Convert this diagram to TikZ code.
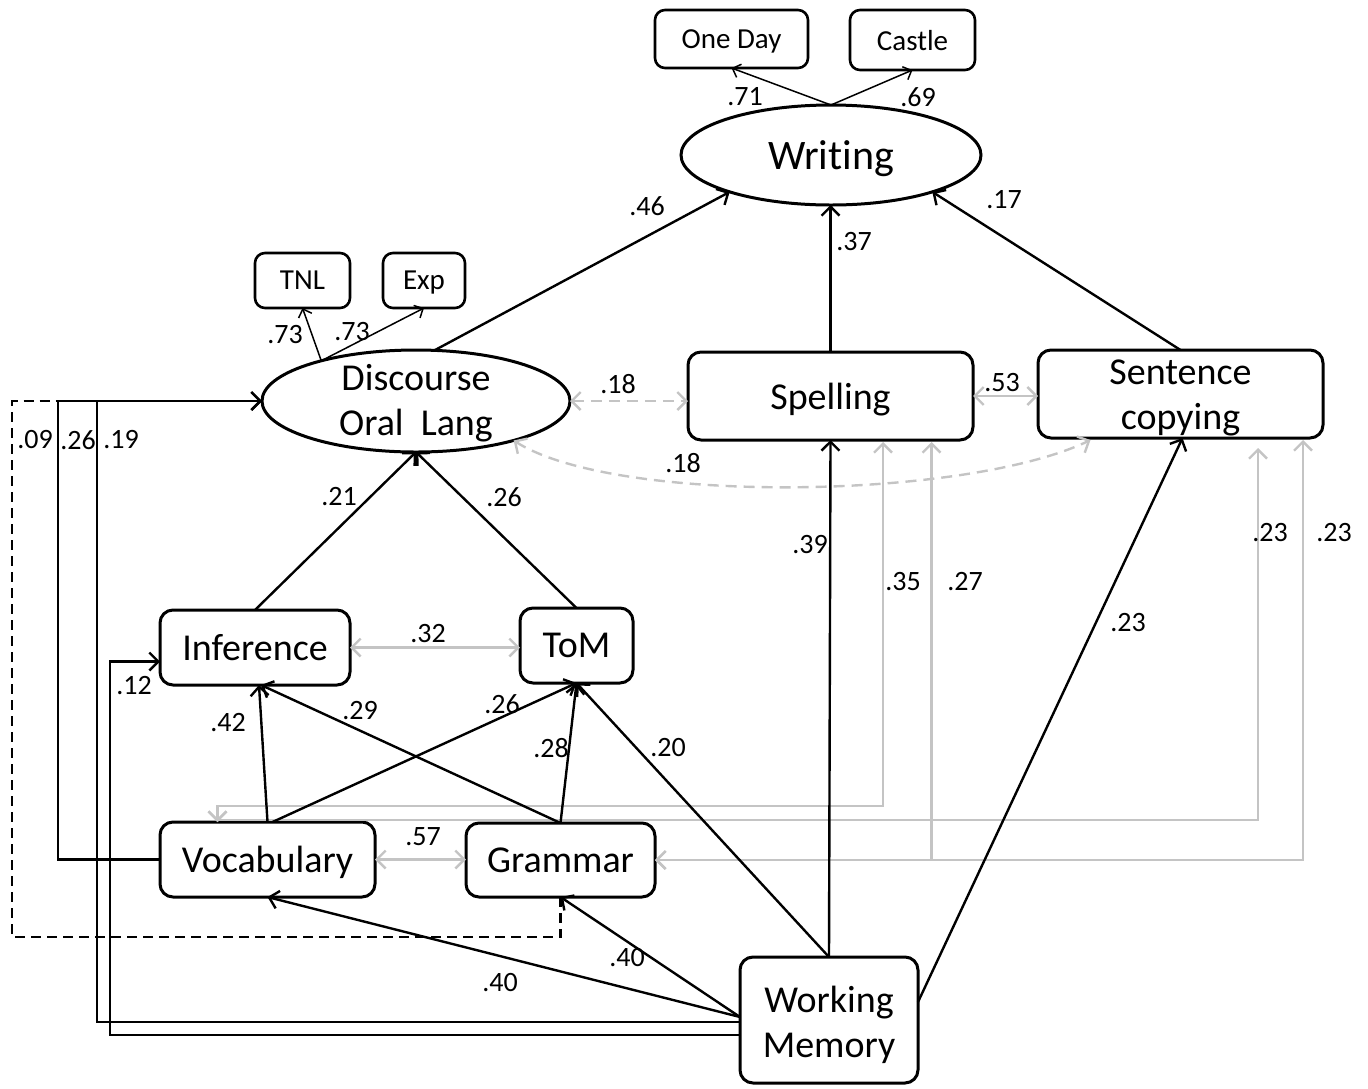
\documentclass[tikz,border=0pt]{standalone}
\usepackage{fontspec}
\setmainfont[Ligatures=NoCommon]{Carlito}
\usetikzlibrary{arrows.meta,shapes.geometric,calc}
\definecolor{corr}{RGB}{196,196,196}
\begin{document}
\begin{tikzpicture}[x=1pt,y=-1pt,
  every node/.style={inner sep=0pt, outer sep=0pt},
  boxfont/.style={font=\fontsize{38}{45}\selectfont},
  box/.style={draw, line width=3pt, rounded corners=13pt, align=center, boxfont, text depth=0pt},
  tallbox/.style={draw, line width=3pt, rounded corners=13pt},
  inner text/.style={boxfont, align=center},
  smallbox/.style={draw, line width=2.6pt, rounded corners=10pt, font=\fontsize{29}{30}\selectfont, text depth=0pt},
  latent/.style={draw, ellipse, line width=3pt, align=center},
  lbl/.style={font=\fontsize{28}{30}\selectfont},
  reg/.style={line width=2.4pt, -{Straight Barb[length=9pt,width=18pt]}},
  ind/.style={line width=1.5pt, -{Straight Barb[length=7pt,width=14pt]}},
  corrline/.style={corr, line width=2.4pt, {Straight Barb[length=9pt,width=18pt]}-{Straight Barb[length=9pt,width=18pt]}},
  corrdash/.style={corrline, dash pattern=on 11pt off 7pt},
  nsdash/.style={line width=2.2pt, dash pattern=on 10pt off 6pt},
]
\useasboundingbox (0,0) rectangle (1368,1088);

% ---- variables ----
\node[smallbox, minimum width=153pt, minimum height=58pt] (oneday) at (731.5,39) {One Day};
\node[smallbox, minimum width=125pt, minimum height=60pt] (castle) at (912.5,40) {Castle};
\node[latent, minimum width=300pt, minimum height=100pt, text depth=0pt, font=\fontsize{42}{45}\selectfont] (writing) at (831,155) {Writing};
\node[smallbox, minimum width=95pt, minimum height=55pt] (tnl) at (302.5,280.5) {TNL};
\node[smallbox, minimum width=82pt, minimum height=55pt] (exp) at (424,280.5) {Exp};
\node[latent, minimum width=308pt, minimum height=102pt,
  label={[inner text, yshift=-2pt]center:Discourse\\Oral\ \ Lang}] (disc) at (416,401) {};
\node[box, minimum width=285pt, minimum height=88pt] (spell) at (830.5,396) {Spelling};
\node[tallbox, minimum width=285pt, minimum height=88pt,
  label={[inner text, yshift=-4pt]center:Sentence\\copying}] (sent) at (1180.5,394) {};
\node[box, minimum width=190pt, minimum height=75pt] (inf) at (255,647.5) {Inference};
\node[box, minimum width=113pt, minimum height=75pt] (tom) at (576.5,645.5) {ToM};
\node[box, minimum width=215pt, minimum height=75pt] (voc) at (267.5,859.5) {Vocabulary};
\node[box, minimum width=189pt, minimum height=74pt] (gram) at (560.5,860) {Grammar};
\node[tallbox, minimum width=178pt, minimum height=126pt,
  label={[inner text, yshift=-5pt]center:Working\\Memory}] (wm) at (829,1020) {};

% ---- correlations (grey) ----
\draw[corrdash] (disc.east) -- (disc.east -| spell.west);
\draw[corrdash] (disc.-22) .. controls (615,505) and (965,500) .. ($(sent.south)+(-90,2)$);
\draw[corrline] (spell.east) -- (spell.east -| sent.west);
\draw[corrline] (inf.east) -- (inf.east -| tom.west);
\draw[corrline] (voc.east) -- (voc.east -| gram.west);
\draw[corrline] ($(spell.south)+(52.5,2)$) -- ++(0,364) -| ($(voc.north)+(-50,0)$);
\draw[corrline] ($(sent.south)+(77.5,10)$) -- ++(0,372) -| ($(voc.north)+(-50,0)$);
\draw[corrline] ($(spell.south)+(101,2)$) |- (gram.east);
\draw[corrline] ($(sent.south)+(122.5,2)$) |- (gram.east);

% ---- measurement loadings ----
\draw[ind] (writing.north) -- (oneday.south);
\draw[ind] (writing.north) -- (castle.south);
\draw[ind] (disc.157) -- (tnl.south);
\draw[ind] (disc.157) -- (exp.south);

% ---- structural paths ----
\draw[reg] (disc.70) -- (writing.200);
\draw[reg] (spell.north) -- (spell.north |- writing.south);
\draw[reg] (sent.north) -- (writing.-20);
\draw[reg] (inf.north) -- (disc.south);
\draw[reg] (tom.north) -- (disc.south);
\draw[reg] (voc.north) -- ($(inf.south)+(4,0)$);
\draw[reg] ($(voc.north)+(5,0)$) -- (tom.south);
\draw[reg] (gram.north) -- ($(inf.south)+(6,0)$);
\draw[reg] (gram.north) -- (tom.south);
\draw[reg] (wm.north) -- (tom.south);
\draw[reg] (wm.north) -- (spell.south);
\draw[reg] ($(wm.east)+(0,-18)$) -- ($(sent.south)+(2,0)$);
\draw[reg] ($(wm.west)+(0,-3)$) -- (gram.south);
\draw[reg] ($(wm.west)+(0,-3)$) -- (voc.south);
\draw[nsdash] (gram.south) |- (12,937) -- (12,401) -- (58,401);
\draw[reg] (voc.west) -| (58,600) |- (disc.west);
\draw[reg] ($(wm.west)+(0,2)$) -| (97,700) |- (disc.west);
\draw[reg] ($(wm.west)+(0,15)$) -| (110,800) |- ($(inf.west)+(0,14)$);

% ---- coefficients ----
\node[lbl] (c71) at (745,97) {.71};
\node[lbl] (c69) at (918,97) {.69};
\node[lbl] (c73a) at (285,335) {.73};
\node[lbl] (c73b) at (352,332) {.73};
\node[lbl] (c46) at (647,206) {.46};
\node[lbl] (c37) at (854,242) {.37};
\node[lbl] (c17) at (1004,200) {.17};
\node[lbl] (c18a) at (618,384) {.18};
\node[lbl] (c18b) at (683,463) {.18};
\node[lbl] (c53) at (1002,383) {.53};
\node[lbl] (c21) at (339,497) {.21};
\node[lbl] (c26a) at (504,497) {.26};
\node[lbl] (c32) at (428,634) {.32};
\node[lbl] (c42) at (228,723) {.42};
\node[lbl] (c29) at (360,711) {.29};
\node[lbl] (c26b) at (502,704) {.26};
\node[lbl] (c28) at (551,748) {.28};
\node[lbl] (c20) at (668,748) {.20};
\node[lbl] (c57) at (423,837) {.57};
\node[lbl] (c39) at (810,545) {.39};
\node[lbl] (c35) at (903,582) {.35};
\node[lbl] (c27) at (965,582) {.27};
\node[lbl] (c23a) at (1270,533) {.23};
\node[lbl] (c23b) at (1334,533) {.23};
\node[lbl] (c23c) at (1128,623) {.23};
\node[lbl] (c40a) at (627,958) {.40};
\node[lbl] (c40b) at (500,983) {.40};
\node[lbl] (c09) at (35,440) {.09};
\node[lbl] (c26c) at (78,440) {.26};
\node[lbl] (c19) at (121,440) {.19};
\node[lbl] (c12) at (134,686) {.12};
\end{tikzpicture}
\end{document}
